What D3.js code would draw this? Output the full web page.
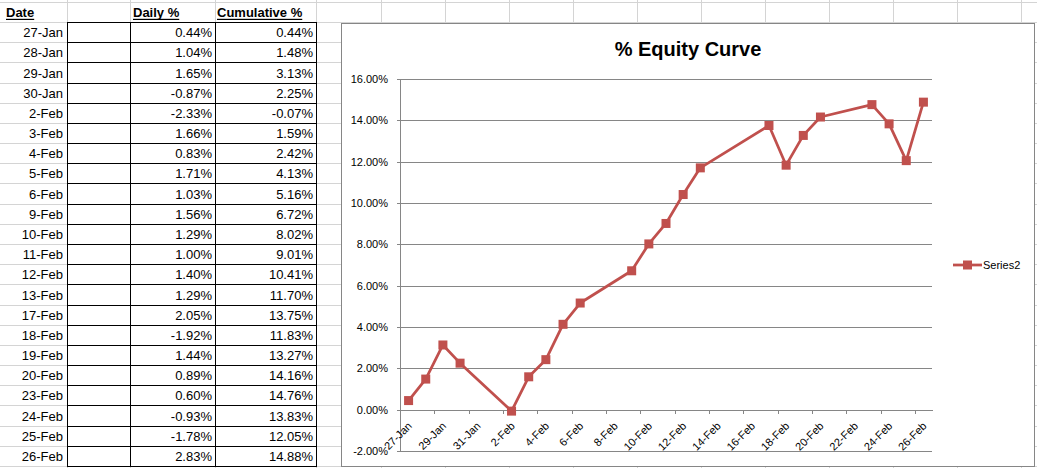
<!DOCTYPE html>
<html><head><meta charset="utf-8">
<script src="https://cdn.jsdelivr.net/npm/d3@7"></script>
<style>html,body{margin:0;padding:0;background:#fff;overflow:hidden}svg{display:block}</style>
</head><body>
<svg id="c" width="1037" height="468"></svg>
<script>
// ---------------- DATA ----------------
const dates = ["2015-01-27","2015-01-28","2015-01-29","2015-01-30","2015-02-02","2015-02-03",
  "2015-02-04","2015-02-05","2015-02-06","2015-02-09","2015-02-10","2015-02-11","2015-02-12",
  "2015-02-13","2015-02-17","2015-02-18","2015-02-19","2015-02-20","2015-02-23","2015-02-24",
  "2015-02-25","2015-02-26"];
const daily = [0.44,1.04,1.65,-0.87,-2.33,1.66,0.83,1.71,1.03,1.56,1.29,1.00,1.40,1.29,2.05,
  -1.92,1.44,0.89,0.60,-0.93,-1.78,2.83];
const cumulative = [0.44,1.48,3.13,2.25,-0.07,1.59,2.42,4.13,5.16,6.72,8.02,9.01,10.41,11.70,
  13.75,11.83,13.27,14.16,14.76,13.83,12.05,14.88];
const yTicks = [-2,0,2,4,6,8,10,12,14,16];
const headers = ["Date","Daily %","Cumulative %"];
const chartTitle = "% Equity Curve";
const seriesName = "Series2";

// ---------------- LAYOUT ----------------
const W = 1037, H = 468;
const svg = d3.select("#c");
const sheetGrid = "#d4d4d4";
const font = "'Liberation Sans', Arial, sans-serif";
const parse = d3.utcParse("%Y-%m-%d");
const dts = dates.map(parse);
const fmtDate = d3.utcFormat("%-d-%b");
const fmtPct = v => v.toFixed(2) + "%";

// spreadsheet rows (header + data rows)
const rowTop0 = 2, headerH = 20;
const dataTop = rowTop0 + headerH, dataBottom = 466;
const rowH = (dataBottom - dataTop) / dates.length;
const rowEdges = d3.range(dates.length + 1).map(i => Math.round(dataTop + i * rowH));
const allRowLines = [rowTop0].concat(rowEdges);
const colEdges = [67, 130, 215, 316];
const extraCols = d3.range(381, W, 64);

const g0 = svg.append("g").attr("shape-rendering", "crispEdges");
// light gridlines of sheet
allRowLines.forEach(y => {
  g0.append("line").attr("x1", 0).attr("x2", W).attr("y1", y + 0.5).attr("y2", y + 0.5)
    .attr("stroke", sheetGrid);
});
colEdges.concat(extraCols).forEach(x => {
  g0.append("line").attr("x1", x + 0.5).attr("x2", x + 0.5).attr("y1", 0).attr("y2", H)
    .attr("stroke", sheetGrid);
});

// black cell borders
const gb = svg.append("g").attr("shape-rendering", "crispEdges");
rowEdges.forEach(y => {
  gb.append("line").attr("x1", colEdges[0]).attr("x2", colEdges[3] + 1)
    .attr("y1", y + 0.5).attr("y2", y + 0.5).attr("stroke", "#000");
});
colEdges.forEach(x => {
  gb.append("line").attr("x1", x + 0.5).attr("x2", x + 0.5)
    .attr("y1", dataTop).attr("y2", dataBottom + 1).attr("stroke", "#000");
});

// headers
const headerX = [6, 133, 217];
const hg = svg.append("g").attr("font-family", font).attr("font-size", 13).attr("font-weight", "bold");
headers.forEach((h, i) => {
  const t = hg.append("text").attr("x", headerX[i]).attr("y", 17).text(h);
  const w = t.node().getComputedTextLength();
  hg.append("rect").attr("x", headerX[i]).attr("y", 18.8).attr("width", w).attr("height", 1.2).attr("fill", "#000");
});

// table body
const tg = svg.append("g").attr("font-family", font).attr("font-size", 13).attr("text-anchor", "end");
dts.forEach((d, i) => {
  const yb = (rowEdges[i] + rowEdges[i + 1]) / 2 + 5;
  tg.append("text").attr("x", 63).attr("y", yb).text(fmtDate(d));
  tg.append("text").attr("x", 212).attr("y", yb).text(fmtPct(daily[i]));
  tg.append("text").attr("x", 313).attr("y", yb).text(fmtPct(cumulative[i]));
});

// ---------------- CHART ----------------
const cx0 = 341, cy0 = 23, cx1 = 1035, cy1 = 467;
svg.append("rect").attr("x", cx0).attr("y", cy0).attr("width", cx1 - cx0).attr("height", cy1 - cy0)
  .attr("fill", "#fff");
svg.append("rect").attr("x", cx0 + 0.5).attr("y", cy0 + 0.5).attr("width", cx1 - cx0 - 1)
  .attr("height", cy1 - cy0 - 1).attr("fill", "none").attr("stroke", "#868686");
svg.append("line").attr("x1", cx1 - 0.5).attr("x2", cx1 - 0.5).attr("y1", cy0).attr("y2", cy1)
  .attr("stroke", "#868686");

const px0 = 400, px1 = 932, py0 = 79, py1 = 451;
const endDate = d3.utcDay.offset(dts[dts.length - 1], 1);
const x = d3.scaleUtc().domain([dts[0], endDate]).range([px0, px1]);
const y = d3.scaleLinear().domain([-2, 16]).range([py1, py0]);
const mid = d => x(d3.utcHour.offset(d, 12));

// title
svg.append("text").attr("x", (cx0 + cx1) / 2).attr("y", 56).attr("text-anchor", "middle")
  .attr("font-family", font).attr("font-size", 20).attr("font-weight", "bold").text(chartTitle);

// gridlines
const grid = svg.append("g").attr("transform", `translate(${px0},0)`)
  .call(d3.axisLeft(y).tickValues(yTicks).tickSize(-(px1 - px0)).tickFormat(""));
grid.select(".domain").remove();
grid.selectAll("line").attr("stroke", "#868686").attr("shape-rendering", "crispEdges");

// y axis
const ya = svg.append("g").attr("transform", `translate(${px0},0)`)
  .call(d3.axisLeft(y).tickValues(yTicks).tickSize(3).tickPadding(9).tickFormat(d => d.toFixed(2) + "%").tickSizeOuter(0));
ya.select(".domain").attr("stroke", "#868686").attr("shape-rendering", "crispEdges");
ya.selectAll("line").attr("stroke", "#868686").attr("shape-rendering", "crispEdges");
ya.selectAll("text").attr("font-family", font).attr("font-size", 11).attr("fill", "#000");

// x axis at 0
const tickDates = d3.utcDay.range(dts[0], endDate, 2);
const xa = svg.append("g").attr("transform", `translate(0,${y(0)})`)
  .call(d3.axisBottom(x).tickValues(tickDates).tickSize(4).tickFormat("").tickSizeOuter(0));
xa.select(".domain").attr("stroke", "#868686").attr("shape-rendering", "crispEdges");
xa.selectAll("line").attr("stroke", "#868686").attr("shape-rendering", "crispEdges");

const xl = svg.append("g").attr("font-family", font).attr("font-size", 11);
tickDates.forEach(d => {
  xl.append("text").attr("text-anchor", "end")
    .attr("transform", `translate(${mid(d) + 4},${y(0) + 17}) rotate(-45)`)
    .text(fmtDate(d));
});

// series
const red = "#c0504d";
const line = d3.line().x((d, i) => mid(dts[i])).y(d => y(d));
svg.append("path").datum(cumulative).attr("d", line).attr("fill", "none")
  .attr("stroke", red).attr("stroke-width", 2.75).attr("stroke-linejoin", "round");
const ms = 9;
svg.append("g").selectAll("rect").data(cumulative).join("rect")
  .attr("x", (d, i) => mid(dts[i]) - ms / 2).attr("y", d => y(d) - ms / 2)
  .attr("width", ms).attr("height", ms).attr("fill", red);

// legend
const ly = 265;
svg.append("line").attr("x1", 953).attr("x2", 982).attr("y1", ly).attr("y2", ly)
  .attr("stroke", red).attr("stroke-width", 2.75);
svg.append("rect").attr("x", 967.5 - ms / 2).attr("y", ly - ms / 2).attr("width", ms).attr("height", ms)
  .attr("fill", red);
svg.append("text").attr("x", 983).attr("y", ly + 4).attr("font-family", font).attr("font-size", 11)
  .text(seriesName);
</script>
</body></html>
